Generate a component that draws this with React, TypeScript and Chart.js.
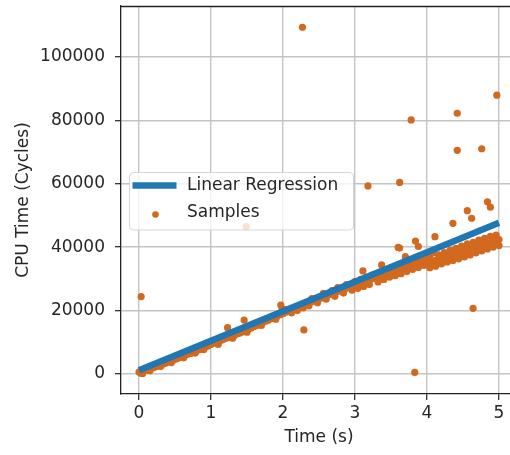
import { useEffect, useRef } from "react";
import { Chart, registerables } from "chart.js";

Chart.register(...registerables);

const REG_T = [0, 5];
const REG_CYCLES = [1200, 47700];

const BAND_T = [
  0.0, 0.02, 0.04, 0.05, 0.08, 0.12, 0.15, 0.16, 0.2, 0.24,
  0.28, 0.3, 0.32, 0.36, 0.4, 0.44, 0.45, 0.48, 0.52, 0.56,
  0.6, 0.62, 0.64, 0.68, 0.72, 0.76, 0.78, 0.8, 0.84, 0.88,
  0.9, 0.92, 0.96, 1.0, 1.04, 1.08, 1.1, 1.12, 1.16, 1.2,
  1.23, 1.24, 1.28, 1.3, 1.32, 1.36, 1.4, 1.44, 1.46, 1.48,
  1.5, 1.52, 1.56, 1.6, 1.64, 1.68, 1.7, 1.72, 1.76, 1.8,
  1.84, 1.88, 1.9, 1.92, 1.96, 1.97, 1.99, 2.0, 2.04, 2.04,
  2.08, 2.12, 2.12, 2.16, 2.2, 2.2, 2.24, 2.28, 2.28, 2.32,
  2.36, 2.36, 2.4, 2.4, 2.44, 2.48, 2.48, 2.52, 2.56, 2.56,
  2.6, 2.6, 2.64, 2.68, 2.68, 2.72, 2.72, 2.76, 2.76, 2.8,
  2.84, 2.84, 2.88, 2.88, 2.92, 2.96, 2.96, 3.0, 3.0, 3.04,
  3.04, 3.08, 3.08, 3.11, 3.12, 3.12, 3.16, 3.16, 3.2, 3.2,
  3.24, 3.24, 3.28, 3.32, 3.32, 3.36, 3.36, 3.37, 3.4, 3.4,
  3.44, 3.44, 3.48, 3.48, 3.52, 3.52, 3.56, 3.56, 3.6, 3.6,
  3.6, 3.62, 3.64, 3.64, 3.68, 3.68, 3.7, 3.72, 3.72, 3.76,
  3.76, 3.8, 3.8, 3.84, 3.84, 3.84, 3.88, 3.88, 3.88, 3.92,
  3.92, 3.96, 3.96, 4.0, 4.0, 4.04, 4.04, 4.04, 4.08, 4.08,
  4.11, 4.12, 4.12, 4.16, 4.16, 4.2, 4.2, 4.24, 4.24, 4.28,
  4.28, 4.32, 4.32, 4.36, 4.36, 4.36, 4.4, 4.4, 4.44, 4.44,
  4.48, 4.48, 4.52, 4.52, 4.56, 4.56, 4.56, 4.6, 4.6, 4.62,
  4.64, 4.64, 4.68, 4.68, 4.72, 4.72, 4.76, 4.76, 4.8, 4.8,
  4.84, 4.84, 4.84, 4.88, 4.88, 4.88, 4.92, 4.92, 4.96, 4.96,
  5.0, 5.0,
];
const BAND_CYCLES = [
  600, 300, 900, 200, 1100, 1300, 1000, 1500, 2000, 2300,
  2600, 2400, 3000, 3300, 3700, 4000, 3600, 4400, 4800, 5100,
  5500, 5100, 5800, 6300, 6500, 7000, 6600, 7300, 7700, 8000,
  7700, 8500, 8800, 9300, 9700, 10000, 9300, 10300, 10800, 11200,
  14600, 11500, 11800, 11300, 12100, 12600, 12900, 13300, 17000, 13700,
  13200, 14100, 14500, 15000, 15300, 15800, 15300, 16200, 16600, 17000,
  17500, 17800, 17300, 18300, 18700, 21700, 20500, 19000, 19500, 20300,
  19900, 20200, 19300, 20600, 21000, 20000, 21300, 21800, 20800, 22100,
  22500, 21500, 22800, 23800, 23200, 23500, 22500, 23900, 24200, 25400,
  24600, 23600, 25000, 25300, 26300, 25700, 24500, 26000, 27200, 26300,
  26700, 25500, 27000, 28200, 27300, 27700, 26400, 28000, 29200, 28300,
  27000, 28700, 29800, 32500, 29000, 27600, 29300, 30500, 29700, 28200,
  30000, 31200, 30300, 30700, 29000, 31000, 32200, 34400, 31300, 29800,
  31700, 32900, 32000, 30500, 32300, 33600, 32700, 31000, 33000, 34400,
  39900, 39700, 33300, 31600, 33700, 35000, 37000, 34000, 32300, 34300,
  35800, 34700, 33000, 35000, 41900, 36500, 35300, 40200, 33600, 35700,
  37000, 36000, 34200, 36300, 37800, 35200, 37000, 33500, 35500, 38200,
  43300, 35800, 34000, 36100, 37600, 36400, 34700, 36700, 38300, 37000,
  35300, 37300, 39000, 37600, 47500, 35800, 37900, 39600, 38200, 36300,
  38500, 40300, 38800, 36900, 39100, 51500, 41000, 39400, 37500, 49100,
  39700, 41500, 40000, 38200, 40300, 42200, 40600, 38800, 40900, 42800,
  41200, 54300, 39400, 41500, 52600, 43400, 41800, 40000, 42100, 43800,
  42400, 40500,
];

const OUTLIER_T = [0.03, 1.49, 2.27, 2.29, 3.18, 3.62, 3.78, 3.83, 4.42, 4.42, 4.64, 4.76, 4.97];
const OUTLIER_CYCLES = [24400, 46500, 109300, 13900, 59300, 60400, 80100, 500, 82200, 70500, 20700, 71000, 87900];

const X_TICKS = [0, 1, 2, 3, 4, 5];
const Y_TICKS = [0, 20000, 40000, 60000, 80000, 100000];

const FONT_FAMILY = "'DejaVu Sans', sans-serif";
const FONT_SIZE = 17;
const TEXT_COLOR = "#262626";
const BLUE = "#1f77b4";
const ORANGE = "#d2691e";

export default function App() {
  const ref = useRef<HTMLCanvasElement>(null);

  useEffect(() => {
    const canvas = ref.current;
    if (!canvas) return;

    const samples = BAND_T.map((t, i) => ({ x: t, y: BAND_CYCLES[i] })).concat(
      OUTLIER_T.map((t, i) => ({ x: t, y: OUTLIER_CYCLES[i] }))
    );
    const reg = REG_T.map((t, i) => ({ x: t, y: REG_CYCLES[i] }));

    const boxPlugin = {
      id: "boxLegend",
      afterDraw(chart: any) {
        const ctx = chart.ctx as CanvasRenderingContext2D;
        const a = chart.chartArea;
        ctx.save();
        // top spine
        ctx.strokeStyle = "#222";
        ctx.lineWidth = 1.3;
        ctx.beginPath();
        ctx.moveTo(a.left, a.top + 0.5);
        ctx.lineTo(a.right, a.top + 0.5);
        ctx.stroke();

        // legend box
        const bx = a.left + 8.5;
        const by = a.top + 166.5;
        const bw = 224;
        const bh = 57.5;
        const r = 4;
        ctx.beginPath();
        ctx.moveTo(bx + r, by);
        ctx.lineTo(bx + bw - r, by);
        ctx.arcTo(bx + bw, by, bx + bw, by + r, r);
        ctx.lineTo(bx + bw, by + bh - r);
        ctx.arcTo(bx + bw, by + bh, bx + bw - r, by + bh, r);
        ctx.lineTo(bx + r, by + bh);
        ctx.arcTo(bx, by + bh, bx, by + bh - r, r);
        ctx.lineTo(bx, by + r);
        ctx.arcTo(bx, by, bx + r, by, r);
        ctx.closePath();
        ctx.fillStyle = "rgba(255,255,255,0.8)";
        ctx.fill();
        ctx.strokeStyle = "rgba(204,204,204,0.8)";
        ctx.lineWidth = 1;
        ctx.stroke();

        const ds = chart.data.datasets;
        const lineDs = ds[0];
        const ptDs = ds[1];
        const y1 = by + 13;
        const y2 = by + 40.5;
        ctx.strokeStyle = lineDs.borderColor;
        ctx.lineWidth = lineDs.borderWidth;
        ctx.lineCap = "butt";
        ctx.beginPath();
        ctx.moveTo(bx + 3, y1);
        ctx.lineTo(bx + 47, y1);
        ctx.stroke();

        ctx.fillStyle = ptDs.backgroundColor;
        ctx.beginPath();
        ctx.arc(bx + 26, y2 + 1.5, 3.3, 0, Math.PI * 2);
        ctx.fill();

        ctx.fillStyle = TEXT_COLOR;
        ctx.font = `${FONT_SIZE}px ${FONT_FAMILY}`;
        ctx.textBaseline = "middle";
        ctx.textAlign = "left";
        ctx.fillText(lineDs.label, bx + 57.5, y1 + 0.5);
        ctx.fillText(ptDs.label, bx + 57.5, y2);
        ctx.restore();
      },
    };

    const chart = new Chart(canvas, {
      type: "scatter",
      data: {
        datasets: [
          {
            label: "Linear Regression",
            data: reg,
            showLine: true,
            borderColor: BLUE,
            backgroundColor: BLUE,
            borderWidth: 6.5,
            pointRadius: 0,
            order: 0,
          } as any,
          {
            label: "Samples",
            data: samples,
            backgroundColor: ORANGE,
            borderColor: ORANGE,
            borderWidth: 0,
            pointRadius: 3.6,
            order: 1,
          } as any,
        ],
      },
      options: {
        responsive: false,
        animation: false,
        devicePixelRatio: 1,
        layout: { autoPadding: false, padding: { left: 0, top: 6, right: 0, bottom: 0 } },
        plugins: {
          legend: { display: false },
          tooltip: { enabled: false },
        },
        scales: {
          x: {
            type: "linear",
            min: -0.25,
            max: 5.25,
            afterFit: (s: any) => {
              s.height = 61;
              s.paddingLeft = 0;
              s.paddingRight = 0;
            },
            afterBuildTicks: (s: any) => {
              s.ticks = X_TICKS.map((v) => ({ value: v }));
            },
            ticks: {
              color: TEXT_COLOR,
              padding: 3,
              font: { family: FONT_FAMILY, size: FONT_SIZE },
              callback: (v: any) => String(v),
            },
            grid: {
              color: "#c4c4c4",
              lineWidth: 1.4,
              tickColor: "#222",
              tickLength: 6,
              tickWidth: 1.2,
            },
            border: { color: "#222", width: 1.3 },
            title: {
              display: true,
              text: "Time (s)",
              color: TEXT_COLOR,
              font: { family: FONT_FAMILY, size: FONT_SIZE },
              padding: { top: 0, bottom: 7 },
            },
          },
          y: {
            type: "linear",
            min: -6300,
            max: 116000,
            afterFit: (s: any) => {
              s.width = 121;
              s.paddingTop = 0;
              s.paddingBottom = 0;
            },
            afterBuildTicks: (s: any) => {
              s.ticks = Y_TICKS.map((v) => ({ value: v }));
            },
            ticks: {
              color: TEXT_COLOR,
              padding: 10,
              font: { family: FONT_FAMILY, size: FONT_SIZE },
              callback: (v: any) => String(v),
            },
            grid: {
              color: "#c4c4c4",
              lineWidth: 1.4,
              tickColor: "#222",
              tickLength: 6,
              tickWidth: 1.2,
            },
            border: { color: "#222", width: 1.3 },
            title: {
              display: true,
              text: "CPU Time (Cycles)",
              color: TEXT_COLOR,
              font: { family: FONT_FAMILY, size: FONT_SIZE },
              padding: { top: 13, bottom: 0 },
            },
          },
        },
      },
      plugins: [boxPlugin],
    });

    return () => chart.destroy();
  }, []);

  return (
    <div
      style={{
        position: "absolute",
        left: 0,
        top: 0,
        width: 510,
        height: 455,
        overflow: "hidden",
      }}
    >
      <canvas
        ref={ref}
        width={517}
        height={455}
        style={{ display: "block", width: 517, height: 455 }}
      />
    </div>
  );
}
